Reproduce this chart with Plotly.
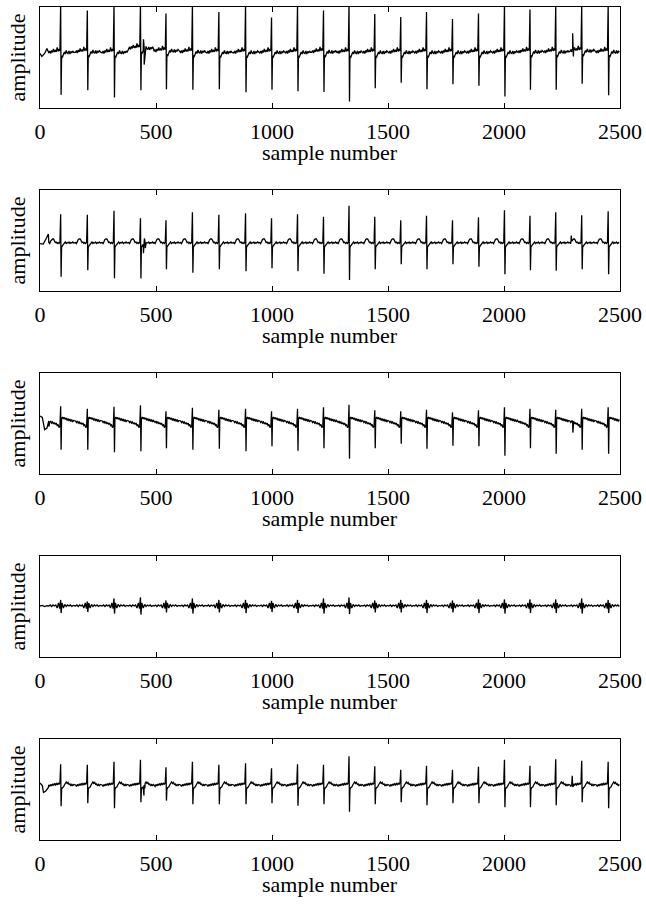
import plotly.graph_objects as go

# ---------------- data ----------------
beats = [90, 205, 320, 434, 544, 658, 772, 887, 999, 1111, 1223, 1333,
         1444, 1556, 1667, 1779, 1891, 2003, 2113, 2224, 2336, 2450]

x_ticks = [0, 500, 1000, 1500, 2000, 2500]
x_tick_labels = ["0", "500", "1000", "1500", "2000", "2500"]

# panel 1
p1_peak = [1.05, 0.93, 1.05, 1.05, 0.87, 1.05, 0.90, 1.05, 0.79, 1.05, 0.93,
           1.05, 0.86, 0.80, 0.90, 0.76, 0.87, 1.05, 0.95, 1.05, 1.05, 1.05]
p1_trough = [-0.74, -0.65, -0.79, -0.65, -0.63, -0.64, -0.63, -0.69, -0.64, -0.67,
             -0.685, -0.87, -0.61, -0.50, -0.63, -0.53, -0.56, -0.77, -0.64,
             -0.64, -0.52, -0.75]
p1_level = [0.09, 0.10, 0.09, 0.17, 0.12, 0.10, 0.09, 0.09, 0.09, 0.09, 0.10,
            0.09, 0.09, 0.09, 0.09, 0.09, 0.09, 0.09, 0.10, 0.10, 0.12, 0.10]
p1_pre_off = [-52, -48, -44, -40, -36, -32, -28, -24, -20, -16, -12, -8, -4]
p1_pre_val = [0.00, 0.04, -0.01, 0.05, 0.01, 0.08, 0.02, 0.05, 0.02, 0.11, 0.03, 0.08, 0.04]
p1_post_off = [3, 7, 11, 15, 19, 23, 27, 31, 35, 39, 43, 47, 51, 55]
p1_post_val = [-0.06, -0.08, -0.03, 0.02, -0.02, 0.05, 0.00, -0.01, 0.04, -0.02, 0.03, 0.00, 0.04, 0.01]
p1_extra_x = [0, 8, 20, 30, 446, 449, 453, 2292, 2296, 2299, 2303]
p1_extra_y = [0.08, 0.02, 0.08, 0.18, 0.36, -0.14, 0.16, 0.15, 0.48, 0.02, 0.20]

# panel 2
p2_peak = [0.52, 0.51, 0.59, 0.44, 0.40, 0.56, 0.51, 0.54, 0.44, 0.52, 0.47,
           0.69, 0.47, 0.40, 0.49, 0.40, 0.46, 0.60, 0.49, 0.56, 0.50, 0.58]
p2_trough = [-0.72, -0.59, -0.75, -0.75, -0.57, -0.64, -0.57, -0.61, -0.55, -0.61,
             -0.66, -0.78, -0.57, -0.47, -0.57, -0.47, -0.52, -0.67, -0.59,
             -0.60, -0.57, -0.67]
p2_level = [-0.05] * 22
p2_pre_off = [-52, -48, -44, -40, -36, -32, -28, -24, -20, -16, -12, -8, -4]
p2_pre_val = [0.01, -0.01, 0.04, 0.07, 0.08, 0.08, 0.05, 0.01, 0.02, -0.01, 0.01, -0.01, 0.02]
p2_post_off = [3, 7, 11, 15, 19, 23, 27, 31, 35, 39, 43, 47, 51, 55]
p2_post_val = [-0.08, -0.05, -0.03, 0.00, 0.02, -0.01, 0.01, 0.00, 0.02, -0.01, 0.01, 0.00, 0.02, 0.00]
p2_extra_x = [0, 14, 29, 36, 446, 450, 454, 2290, 2294]
p2_extra_y = [-0.06, -0.07, 0.06, 0.13, -0.25, 0.04, -0.15, 0.10, 0.00]

# panel 3
p3_peak = [0.34, 0.29, 0.33, 0.36, 0.24, 0.31, 0.27, 0.29, 0.24, 0.29, 0.32,
           0.37, 0.26, 0.24, 0.27, 0.22, 0.26, 0.32, 0.29, 0.27, 0.29, 0.32]
p3_trough = [-0.52, -0.52, -0.57, -0.55, -0.49, -0.52, -0.50, -0.55, -0.45, -0.54,
             -0.49, -0.70, -0.49, -0.40, -0.50, -0.44, -0.45, -0.64, -0.49,
             -0.60, -0.52, -0.60]
p3_level = [0.0] * 22
p3_pre_off = [-52, -48, -44, -40, -36, -32, -28, -24, -20, -16, -12, -8, -4]
p3_pre_val = [0.05, 0.02, 0.05, 0.01, 0.03, -0.01, 0.02, -0.02, 0.01, -0.04, -0.02, -0.08, -0.05]
p3_post_off = [3, 7, 11, 15, 19, 23, 27, 31, 35, 39, 43, 47, 51, 55]
p3_post_val = [0.09, 0.13, 0.09, 0.12, 0.08, 0.11, 0.06, 0.10, 0.05, 0.09, 0.04, 0.08, 0.03, 0.06]
p3_extra_x = [0, 10, 20, 30, 38, 2294, 2297, 2300]
p3_extra_y = [0.15, 0.12, -0.12, -0.09, -0.06, 0.05, -0.18, 0.05]

# panel 4
p4_peak = [0.13, 0.10, 0.16, 0.18, 0.12, 0.16, 0.13, 0.13, 0.11, 0.13, 0.16,
           0.18, 0.12, 0.13, 0.13, 0.12, 0.14, 0.14, 0.14, 0.14, 0.16, 0.13]
p4_trough = [-0.13, -0.11, -0.14, -0.16, -0.12, -0.14, -0.12, -0.13, -0.11, -0.13,
             -0.14, -0.15, -0.12, -0.12, -0.13, -0.12, -0.13, -0.14, -0.13,
             -0.13, -0.14, -0.13]
p4_level = [0.01] * 22
p4_pre_off = [-52, -46, -40, -34, -28, -22, -16, -10, -5]
p4_pre_val = [0.00, 0.02, -0.01, 0.02, 0.00, 0.02, -0.04, 0.06, -0.05]
p4_post_off = [5, 11, 17, 23, 29, 35, 41, 47, 53]
p4_post_val = [0.06, -0.04, 0.03, -0.01, 0.02, 0.00, 0.02, -0.01, 0.01]
p4_extra_x = [0, 10, 20, 30]
p4_extra_y = [0.01, 0.02, 0.00, 0.015]

# panel 5
p5_peak = [0.50, 0.49, 0.55, 0.59, 0.44, 0.55, 0.49, 0.52, 0.42, 0.50, 0.49,
           0.66, 0.46, 0.39, 0.47, 0.39, 0.45, 0.59, 0.47, 0.60, 0.57, 0.55]
p5_trough = [-0.33, -0.27, -0.37, -0.25, -0.22, -0.29, -0.29, -0.29, -0.27, -0.32,
             -0.29, -0.44, -0.29, -0.25, -0.31, -0.27, -0.27, -0.35, -0.35,
             -0.31, -0.25, -0.37]
p5_level = [0.07] * 22
p5_pre_off = [-52, -48, -44, -40, -36, -32, -28, -24, -20, -16, -12, -8, -4]
p5_pre_val = [0.02, -0.01, 0.03, 0.00, 0.04, 0.01, 0.05, 0.02, 0.05, 0.02, 0.06, 0.03, 0.07]
p5_post_off = [3, 7, 11, 15, 19, 23, 27, 31, 35, 39, 43, 47, 51, 55]
p5_post_val = [-0.07, -0.03, -0.02, 0.02, 0.05, 0.08, 0.05, 0.07, 0.03, 0.04, 0.00, 0.03, 0.01, 0.03]
p5_extra_x = [0, 10, 15, 25, 35, 448, 452, 2294, 2298]
p5_extra_y = [0.13, 0.08, -0.06, -0.03, 0.03, -0.12, 0.02, 0.27, 0.05]


def build(peak, trough, level, pre_off, pre_val, post_off, post_val, ex_x, ex_y):
    pts = []
    for i, b in enumerate(beats):
        for o, v in zip(pre_off, pre_val):
            pts.append((b + o, level[i] + v))
        pts.append((b - 1, peak[i]))
        pts.append((b + 1, trough[i]))
        for o, v in zip(post_off, post_val):
            pts.append((b + o, level[i] + v))
    for x, y in zip(ex_x, ex_y):
        pts.append((x, y))
    pts = [p for p in pts if 0 <= p[0] <= 2500]
    pts.sort(key=lambda p: p[0])
    return [p[0] for p in pts], [p[1] for p in pts]


panels = [
    build(p1_peak, p1_trough, p1_level, p1_pre_off, p1_pre_val, p1_post_off, p1_post_val,
          p1_extra_x, p1_extra_y),
    build(p2_peak, p2_trough, p2_level, p2_pre_off, p2_pre_val, p2_post_off, p2_post_val,
          p2_extra_x, p2_extra_y),
    build(p3_peak, p3_trough, p3_level, p3_pre_off, p3_pre_val, p3_post_off, p3_post_val,
          p3_extra_x, p3_extra_y),
    build(p4_peak, p4_trough, p4_level, p4_pre_off, p4_pre_val, p4_post_off, p4_post_val,
          p4_extra_x, p4_extra_y),
    build(p5_peak, p5_trough, p5_level, p5_pre_off, p5_pre_val, p5_post_off, p5_post_val,
          p5_extra_x, p5_extra_y),
]

# ---------------- figure ----------------
W, H = 646, 904
FONT = "Liberation Serif, Times New Roman, serif"
fig = go.Figure()
layout = dict(
    width=W, height=H, margin=dict(l=0, r=0, t=0, b=0, autoexpand=False),
    paper_bgcolor="white", plot_bgcolor="white", showlegend=False,
    font=dict(family=FONT, size=22, color="black"),
)
annotations = []
x0, x1 = 40 / W, 620 / W
for i, (xs, ys) in enumerate(panels):
    top = 7 + 183 * i
    bot = top + 101
    dom = [1 - bot / H, 1 - top / H]
    n = "" if i == 0 else str(i + 1)
    fig.add_trace(go.Scatter(x=xs, y=ys, mode="lines",
                             line=dict(color="black", width=1.3),
                             xaxis="x" + n, yaxis="y" + n, hoverinfo="skip"))
    layout["xaxis" + n] = dict(
        domain=[x0, x1], range=[0, 2500], anchor="y" + n, automargin=False,
        tickvals=x_ticks, ticktext=x_tick_labels, ticks="inside", ticklen=5,
        tickcolor="black", showline=True, linecolor="black", linewidth=1,
        mirror="ticks", showgrid=False, zeroline=False,
        tickfont=dict(family=FONT, size=22, color="black"), ticklabelstandoff=4,
    )
    layout["yaxis" + n] = dict(
        domain=dom, range=[-1, 1], anchor="x" + n, automargin=False,
        showticklabels=False, ticks="", showline=True, linecolor="black",
        linewidth=1, mirror=True, showgrid=False, zeroline=False,
    )
    annotations.append(dict(
        text="sample number", xref="paper", yref="paper", x=330 / W,
        y=1 - (bot + 44) / H, xanchor="center", yanchor="middle", showarrow=False,
        font=dict(family=FONT, size=22, color="black")))
    annotations.append(dict(
        text="amplitude", xref="paper", yref="paper", x=17 / W,
        y=1 - (top + 50.5) / H, xanchor="center", yanchor="middle", showarrow=False,
        textangle=-90, font=dict(family=FONT, size=22, color="black")))
layout["annotations"] = annotations
fig.update_layout(**layout)
fig.write_html("out.html", config={"displayModeBar": False, "staticPlot": True},
               post_script="document.body.style.margin='0';document.body.style.overflow='hidden';")
